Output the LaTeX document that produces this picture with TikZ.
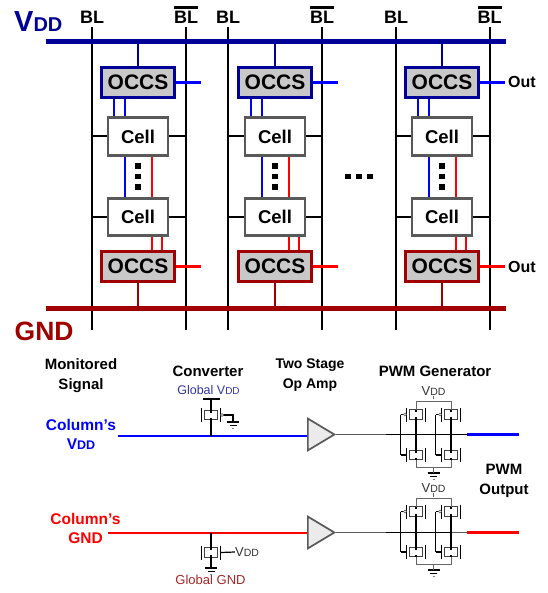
\documentclass[tikz,border=0pt]{standalone}
\usepackage{fontspec}
\setmainfont{Liberation Sans}
\usetikzlibrary{shapes.geometric}
\definecolor{vddblue}{HTML}{000099}
\definecolor{gndred}{HTML}{A00000}
\definecolor{globalblue}{HTML}{3333A0}
\definecolor{globalred}{HTML}{A82828}
\definecolor{occsgray}{HTML}{C8C8C8}
\definecolor{cellgray}{HTML}{595959}
\newcommand{\subdd}[1]{{\fontsize{#1}{#1}\selectfont DD}}
\newcommand{\barbl}{\rlap{\raisebox{15pt}{\rule{24pt}{2.6pt}}}BL}
\tikzset{
	boldlab/.style={font=\fontsize{#1}{#1}\selectfont\bfseries,align=center,inner sep=0pt},
	plainlab/.style={font=\fontsize{#1}{#1}\selectfont,align=center,inner sep=0pt},
	bitline/.style={draw=black,line width=2pt},
	occstop/.style={draw=vddblue,line width=3pt,fill=occsgray,minimum width=73pt,minimum height=30pt,inner sep=0pt,font=\fontsize{21}{21}\selectfont\bfseries},
	occsbot/.style={occstop,draw=gndred},
	cellbox/.style={draw=cellgray,line width=2.6pt,fill=white,minimum width=60pt,minimum height=37.5pt,inner sep=0pt,font=\fontsize{18.5}{18.5}\selectfont\bfseries},
	dotmark/.style={fill=black,minimum size=5.5pt,inner sep=0pt},
	opamp/.style={isosceles triangle,isosceles triangle apex angle=62,draw=cellgray,line width=1.7pt,fill=black!8,minimum height=26.5pt,inner sep=0pt,anchor=west},
	bubble/.style={circle,draw=cellgray,line width=0.6pt,fill=white,minimum size=3pt,inner sep=0pt},
	pics/mosfet/.style={code={
		\draw[black!75,line width=1.2pt,fill=white] (-6.5,-4.7) rectangle (6.5,4.7);
		\draw[black,line width=1pt] (-9.5,-7) -- (-9.5,7);
		\draw[black,line width=1pt] (9.5,-7) -- (9.5,7);
		\draw[black,line width=1.2pt] (0,-4.7) -- (0,-2.5);
		\draw[black,line width=1.2pt] (0,4.7) -- (0,2.5);
		\coordinate (-top) at (0,-4.7);
		\coordinate (-bot) at (0,4.7);
		\coordinate (-gate) at (-15.5,0);
		\coordinate (-plate) at (-9.5,0);
		\coordinate (-bub) at (-11,0);
	}},
	pics/gndmark/.style={code={
		\coordinate (-mid) at (0,0);
		\draw[black,line width=1.1pt] (-6,0) -- (6,0);
		\draw[black,line width=0.9pt] (-3.5,3) -- (3.5,3);
		\draw[black!50,line width=0.6pt] (-1,6) -- (1,6);
	}},
}

\begin{document}
\begin{tikzpicture}[x=1pt,y=-1pt]
	\useasboundingbox (0,0) rectangle (547,593);
	% header labels
	\node[boldlab=18,anchor=base] (blA) at (92,24) {BL};
	\node[boldlab=18,anchor=base] (blbarA) at (186,24) {\barbl};
	\node[boldlab=18,anchor=base] (blB) at (228,24) {BL};
	\node[boldlab=18,anchor=base] (blbarB) at (322,24) {\barbl};
	\node[boldlab=18,anchor=base] (blC) at (396,24) {BL};
	\node[boldlab=18,anchor=base] (blbarC) at (489.5,24) {\barbl};
	\node[boldlab=29,anchor=base west,text=vddblue] (vddname) at (14,32) {V\subdd{20}};
	\node[boldlab=26.5,anchor=base west,text=gndred] (gndname) at (14.5,340) {GND};
	\node[boldlab=16,anchor=west] (outT) at (508,82) {Out};
	\node[boldlab=16,anchor=west] (outB) at (508,267) {Out};
	\coordinate (vddL) at (46,42);
	\coordinate (vddR) at (506,42);
	\coordinate (gndL) at (46,308);
	\coordinate (gndR) at (506,308);
	\coordinate (endA) at (92,330);
	\coordinate (endbarA) at (186,330);
	\coordinate (endB) at (228,330);
	\coordinate (endbarB) at (322,330);
	\coordinate (endC) at (396,330);
	\coordinate (endbarC) at (489.5,330);
	% bit lines
	\draw[bitline] (blA.south) ++(0,3) -- (endA);
	\draw[bitline] (blbarA.south) ++(0,3) -- (endbarA);
	\draw[bitline] (blB.south) ++(0,3) -- (endB);
	\draw[bitline] (blbarB.south) ++(0,3) -- (endbarB);
	\draw[bitline] (blC.south) ++(0,3) -- (endC);
	\draw[bitline] (blbarC.south) ++(0,3) -- (endbarC);
	% boxes
	\node[occstop] (occsTA) at (138,82.5) {OCCS};
	\node[occstop] (occsTB) at (275,82.5) {OCCS};
	\node[occstop] (occsTC) at (442,82.5) {OCCS};
	\node[occsbot] (occsBA) at (138,266.5) {OCCS};
	\node[occsbot] (occsBB) at (275,266.5) {OCCS};
	\node[occsbot] (occsBC) at (442,266.5) {OCCS};
	\node[cellbox] (cellTA) at (138,136.5) {Cell};
	\node[cellbox] (cellTB) at (275,136.5) {Cell};
	\node[cellbox] (cellTC) at (442,136.5) {Cell};
	\node[cellbox] (cellBA) at (138,217) {Cell};
	\node[cellbox] (cellBB) at (275,217) {Cell};
	\node[cellbox] (cellBC) at (442,217) {Cell};
	% cells to bit lines
	\begin{scope}[black,line width=2pt]
		\draw (cellTA.west) -- (cellTA.west -| blA);
		\draw (cellTA.east) -- (cellTA.east -| blbarA);
		\draw (cellBA.west) -- (cellBA.west -| blA);
		\draw (cellBA.east) -- (cellBA.east -| blbarA);
		\draw (cellTB.west) -- (cellTB.west -| blB);
		\draw (cellTB.east) -- (cellTB.east -| blbarB);
		\draw (cellBB.west) -- (cellBB.west -| blB);
		\draw (cellBB.east) -- (cellBB.east -| blbarB);
		\draw (cellTC.west) -- (cellTC.west -| blC);
		\draw (cellTC.east) -- (cellTC.east -| blbarC);
		\draw (cellBC.west) -- (cellBC.west -| blC);
		\draw (cellBC.east) -- (cellBC.east -| blbarC);
	\end{scope}
	% supply bars
	\draw[vddblue,line width=5pt] (vddL) -- (vddR);
	\draw[gndred,line width=5pt] (gndL) -- (gndR);
	\begin{scope}[vddblue,line width=2.4pt]
		\draw (occsTA.north) -- (occsTA.north |- vddL);
		\draw (occsTB.north) -- (occsTB.north |- vddL);
		\draw (occsTC.north) -- (occsTC.north |- vddL);
	\end{scope}
	\begin{scope}[gndred,line width=2.4pt]
		\draw (occsBA.south) -- (occsBA.south |- gndL);
		\draw (occsBB.south) -- (occsBB.south |- gndL);
		\draw (occsBC.south) -- (occsBC.south |- gndL);
	\end{scope}
	% blue links
	\begin{scope}[blue,line width=2.2pt]
		\draw ([xshift=-24pt]occsTA.south) -- ([xshift=-24pt]cellTA.north);
		\draw ([xshift=-13pt]occsTA.south) -- ([xshift=-13pt]cellTA.north);
		\draw ([xshift=-13pt]cellTA.south) -- ([xshift=-13pt]cellBA.north);
		\draw ([xshift=-24pt]occsTB.south) -- ([xshift=-24pt]cellTB.north);
		\draw ([xshift=-13pt]occsTB.south) -- ([xshift=-13pt]cellTB.north);
		\draw ([xshift=-13pt]cellTB.south) -- ([xshift=-13pt]cellBB.north);
		\draw ([xshift=-24pt]occsTC.south) -- ([xshift=-24pt]cellTC.north);
		\draw ([xshift=-13pt]occsTC.south) -- ([xshift=-13pt]cellTC.north);
		\draw ([xshift=-13pt]cellTC.south) -- ([xshift=-13pt]cellBC.north);
		\draw (occsTA.east) -- ++(25,0);
		\draw (occsTB.east) -- ++(25,0);
		\draw (occsTC.east) -- ++(25,0);
	\end{scope}
	% red links
	\begin{scope}[red,line width=2.2pt]
		\draw ([xshift=14pt]cellTA.south) -- ([xshift=14pt]cellBA.north);
		\draw ([xshift=14pt]cellBA.south) -- ([xshift=14pt]occsBA.north);
		\draw ([xshift=24pt]cellBA.south) -- ([xshift=24pt]occsBA.north);
		\draw ([xshift=14pt]cellTB.south) -- ([xshift=14pt]cellBB.north);
		\draw ([xshift=14pt]cellBB.south) -- ([xshift=14pt]occsBB.north);
		\draw ([xshift=24pt]cellBB.south) -- ([xshift=24pt]occsBB.north);
		\draw ([xshift=14pt]cellTC.south) -- ([xshift=14pt]cellBC.north);
		\draw ([xshift=14pt]cellBC.south) -- ([xshift=14pt]occsBC.north);
		\draw ([xshift=24pt]cellBC.south) -- ([xshift=24pt]occsBC.north);
		\draw (occsBA.east) -- ++(25,0);
		\draw (occsBB.east) -- ++(25,0);
		\draw (occsBC.east) -- ++(25,0);
	\end{scope}
	% dots
	\begin{scope}[every node/.style={dotmark}]
		\node (dotAa) at (138,166) {};
		\node (dotAb) at (138,176.5) {};
		\node (dotAc) at (138,187) {};
		\node (dotBa) at (275,166) {};
		\node (dotBb) at (275,176.5) {};
		\node (dotBc) at (275,187) {};
		\node (dotCa) at (442,166) {};
		\node (dotCb) at (442,176.5) {};
		\node (dotCc) at (442,187) {};
		\node (dotMa) at (348,176.5) {};
		\node (dotMb) at (359,176.5) {};
		\node (dotMc) at (370,176.5) {};
	\end{scope}
	% lower labels
	\node[boldlab=15] (monitored) at (81,375.5) {Monitored\\[4.5pt]Signal};
	\node[boldlab=15] (converter) at (208,371) {Converter};
	\node[plainlab=12.5,text=globalblue] (globalvdd) at (208.5,390) {Global V\subdd{10}};
	\node[boldlab=14] (twostage) at (310,375.5) {Two Stage\\[6pt]Op Amp};
	\node[boldlab=15] (pwmgen) at (435,371) {PWM Generator};
	\node[boldlab=15] (pwmout) at (504,481) {PWM\\[5pt]Output};
	\node[boldlab=15.5,text=blue] (colvdd) at (81,434.5) {Column’s\\[4pt]{V\subdd{12.5}}};
	\node[boldlab=15.5,text=red] (colgnd) at (85.5,528.5) {Column’s\\[4pt]GND};
	\node[plainlab=13,text=globalred] (globalgnd) at (210.5,580) {Global GND};
	\node[plainlab=13,text=black!80] (vddconv) at (247,552) {V\subdd{10.5}};
	\node[plainlab=13,text=black!80] (vddA) at (433.5,391) {V\subdd{10.5}};
	\node[plainlab=13,text=black!80] (vddB) at (433.5,488.5) {V\subdd{10.5}};
	% monitored signals
	\node[opamp] (ampA) at (307,434.5) {};
	\node[opamp] (ampB) at (307,532.5) {};
	\coordinate (srcA) at (118,436);
	\coordinate (srcB) at (108,533);
	\draw[blue,line width=2.2pt] (srcA) -- (ampA.west |- srcA);
	\draw[red,line width=2.2pt] (srcB) -- (ampB.west |- srcB);
	% converter devices
	\pic[xscale=-1] (convA) at (211,415) {mosfet};
	\pic[xscale=-1] (convB) at (211,552.5) {mosfet};
	\pic (gndconvA) at (233,422) {gndmark};
	\pic (gndconvB) at (211,568) {gndmark};
	\coordinate (railconvL) at (203,399);
	\coordinate (railconvR) at (220,399);
	\draw[black,line width=1.2pt] (railconvL) -- (railconvR);
	\draw[black,line width=1.2pt] (convA-top) -- (convA-top |- railconvL);
	\draw[black,line width=1.2pt] (convA-bot) -- (srcA -| convA-bot);
	\draw[black,line width=1.2pt] (convA-plate) -| (gndconvA-mid);
	\node[bubble] (bubconv) at (convA-bub) {};
	\draw[black,line width=1.2pt] (convB-top) -- (srcB -| convB-top);
	\draw[black,line width=1.2pt] (convB-bot) -- (gndconvB-mid);
	\draw[black,line width=1.2pt] (convB-plate) -- (vddconv.west);
	% PWM generator A
	\pic (mpAa) at (416,414.5) {mosfet};
	\pic (mpAb) at (451,414.5) {mosfet};
	\pic (mnAa) at (416,455) {mosfet};
	\pic (mnAb) at (451,455) {mosfet};
	\pic (gndA) at (433.5,473) {gndmark};
	\coordinate (inA) at (386,434.5);
	\coordinate (drvA) at (467,434.5);
	\coordinate (pwmA) at (519,434.5);
	\draw[cellgray,line width=1.7pt] (ampA.east) -- (inA);
	\draw[black,line width=1.2pt] (inA) -- (drvA);
	\draw[blue,line width=2.2pt] (drvA) -- (pwmA);
	\draw[black,line width=1.2pt] (mpAa-bot) -- (mnAa-top);
	\draw[black,line width=1.2pt] (mpAb-bot) -- (mnAb-top);
	\draw[black,line width=1.2pt] (mpAa-gate) -- (mnAa-gate);
	\draw[black,line width=1.2pt] (mpAb-gate) -- (mnAb-gate);
	\draw[black,line width=1.2pt] (mpAa-gate) -- (mpAa-plate);
	\draw[black,line width=1.2pt] (mpAb-gate) -- (mpAb-plate);
	\draw[black,line width=1.2pt] (mnAa-gate) -- (mnAa-plate);
	\draw[black,line width=1.2pt] (mnAb-gate) -- (mnAb-plate);
	\node[bubble] (bubAa) at (mpAa-bub) {};
	\node[bubble] (bubAb) at (mpAb-bub) {};
	\draw[black!60,line width=1pt] (mpAa-top) -- ++(0,-8) -| (mpAb-top);
	\draw[black!60,line width=1pt] (mnAa-bot) -- ++(0,7.5) -| (mnAb-bot);
	\draw[black!60,line width=1pt] (vddA.south) -- ++(0,3.5);
	\draw[black!60,line width=1pt] (gndA-mid) -- ++(0,-6);
	% PWM generator B
	\pic (mpBa) at (416,511.5) {mosfet};
	\pic (mpBb) at (451,511.5) {mosfet};
	\pic (mnBa) at (416,552) {mosfet};
	\pic (mnBb) at (451,552) {mosfet};
	\pic (gndB) at (433.5,570) {gndmark};
	\coordinate (inB) at (386,532.5);
	\coordinate (tapB) at (451,532.5);
	\coordinate (drvB) at (467,532.5);
	\coordinate (pwmB) at (519,532.5);
	\draw[cellgray,line width=1.7pt] (ampB.east) -- (inB);
	\draw[black,line width=1.2pt] (inB) -- (tapB);
	\draw[cellgray,line width=1.7pt] (tapB) -- (drvB);
	\draw[red,line width=2.2pt] (drvB) -- (pwmB);
	\draw[black,line width=1.2pt] (mpBa-bot) -- (mnBa-top);
	\draw[black,line width=1.2pt] (mpBb-bot) -- (mnBb-top);
	\draw[black,line width=1.2pt] (mpBa-gate) -- (mnBa-gate);
	\draw[black,line width=1.2pt] (mpBb-gate) -- (mnBb-gate);
	\draw[black,line width=1.2pt] (mpBa-gate) -- (mpBa-plate);
	\draw[black,line width=1.2pt] (mpBb-gate) -- (mpBb-plate);
	\draw[black,line width=1.2pt] (mnBa-gate) -- (mnBa-plate);
	\draw[black,line width=1.2pt] (mnBb-gate) -- (mnBb-plate);
	\node[bubble] (bubBa) at (mpBa-bub) {};
	\node[bubble] (bubBb) at (mpBb-bub) {};
	\draw[black!60,line width=1pt] (mpBa-top) -- ++(0,-8) -| (mpBb-top);
	\draw[black!60,line width=1pt] (mnBa-bot) -- ++(0,7.5) -| (mnBb-bot);
	\draw[black!60,line width=1pt] (vddB.south) -- ++(0,3.5);
	\draw[black!60,line width=1pt] (gndB-mid) -- ++(0,-6);
\end{tikzpicture}
\end{document}
